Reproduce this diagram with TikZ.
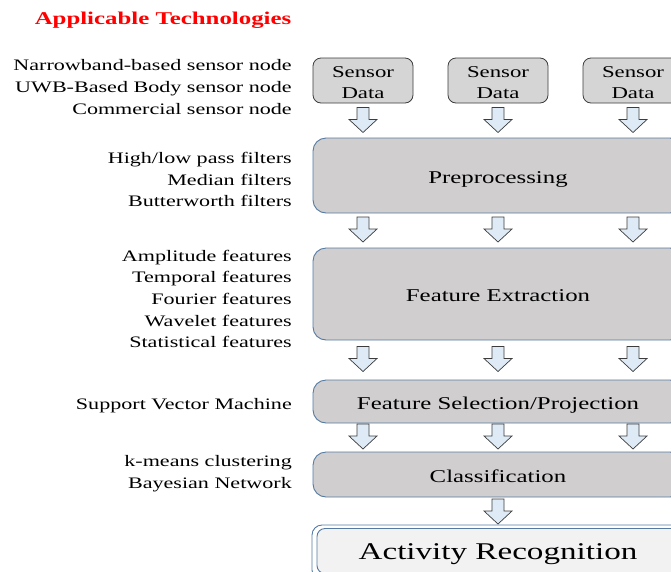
\documentclass[tikz,border=0pt]{standalone}
\usepackage{fontspec}
\setmainfont[FakeStretch=1.38]{Liberation Serif}
\usetikzlibrary{calc}
\definecolor{boxgray}{RGB}{208,206,206}
\definecolor{sensgray}{RGB}{214,213,213}
\definecolor{boxblue}{RGB}{84,122,163}
\definecolor{arrowfill}{RGB}{222,234,246}
\definecolor{arrowline}{RGB}{60,60,60}
\definecolor{arfill}{RGB}{242,242,242}
\newcommand{\toppad}{\rule{0pt}{15.5pt}}
\begin{document}
\begin{tikzpicture}[x=1pt,y=-1pt,
  sensorbox/.style={draw=arrowline, line width=0.8pt, fill=sensgray, rounded corners=8pt,
    minimum width=100pt, minimum height=45pt, inner sep=0pt, align=center,
    font=\fontsize{16.5}{21}\selectfont},
  bigbox/.style={draw=boxblue, line width=0.9pt, fill=boxgray, rounded corners=13pt,
    minimum width=370pt, inner sep=0pt, text height=15pt, text depth=0pt,
    font=\fontsize{18}{22}\selectfont},
  lbl/.style={anchor=east, align=right, inner sep=0pt, font=\fontsize{16}{21.7}\selectfont},
  barrow/.pic={\draw[draw=arrowline, line width=0.7pt, fill=arrowfill]
    (-6,-12) -- (6,-12) -- (6,0) -- (14,0) -- (0,13) -- (-14,0) -- (-6,0) -- cycle;}
]
\useasboundingbox (0,0) rectangle (671,571);
\clip (0,0) rectangle (671,571);

% title
\node[font=\fontsize{18}{22}\selectfont\bfseries, text=red, inner sep=0pt] (title) at (163,20) {Applicable Technologies};

% sensor boxes
\node[sensorbox] (s1) at (363,80.5) {\toppad Sensor\\Data};
\node[sensorbox] (s2) at (498,80.5) {\toppad Sensor\\Data};
\node[sensorbox] (s3) at (633,80.5) {\toppad Sensor\\Data};

% stage boxes
\node[bigbox, minimum height=75pt] (pre) at (498,175.5) {Preprocessing};
\node[bigbox, minimum height=92pt] (fe) at (498,294) {Feature Extraction};
\node[bigbox, minimum height=43pt] (fs) at (498,401.5) {Feature Selection/Projection};
\node[bigbox, minimum height=45pt] (cl) at (498,474.5) {Classification};

% activity recognition (double border)
\node[draw=boxblue, line width=0.9pt, fill=white, rounded corners=10pt,
  minimum width=372pt, minimum height=55pt, inner sep=0pt] (ar) at (498,552.5) {};
\node[draw=boxblue, line width=0.9pt, fill=arfill, rounded corners=8pt,
  minimum width=362pt, minimum height=45pt, inner sep=0pt,
  text height=16pt, text depth=0pt,
  font=\fontsize{24}{27}\selectfont] (ari) at (498,551) {Activity Recognition};

% block arrows
\foreach \s in {s1,s2,s3}
  \pic at ($(\s.south)!0.5!(\s.south |- pre.north)+(0,-1)$) {barrow};
\foreach \a/\b in {pre/fe, fe/fs, fs/cl}
  \foreach \s in {s1,s2,s3}
    \pic at ($(\s |- \a.south)!0.5!(\s |- \b.north)+(0,-1.5)$) {barrow};
\pic at ($(cl.south)!0.5!(ar.north)$) {barrow};

% side labels
\node[lbl] (l1) at (292,87) {Narrowband-based sensor node\\UWB-Based Body sensor node\\Commercial sensor node};
\node[lbl] (l2) at (292,179.5) {High/low pass filters\\Median filters\\Butterworth filters};
\node[lbl] (l3) at (292,299) {Amplitude features\\Temporal features\\Fourier features\\Wavelet features\\Statistical features};
\node[lbl] (l4) at (292,405.5) {Support Vector Machine};
\node[lbl] (l5) at (292,473.5) {k-means clustering\\Bayesian Network};
\end{tikzpicture}
\end{document}
